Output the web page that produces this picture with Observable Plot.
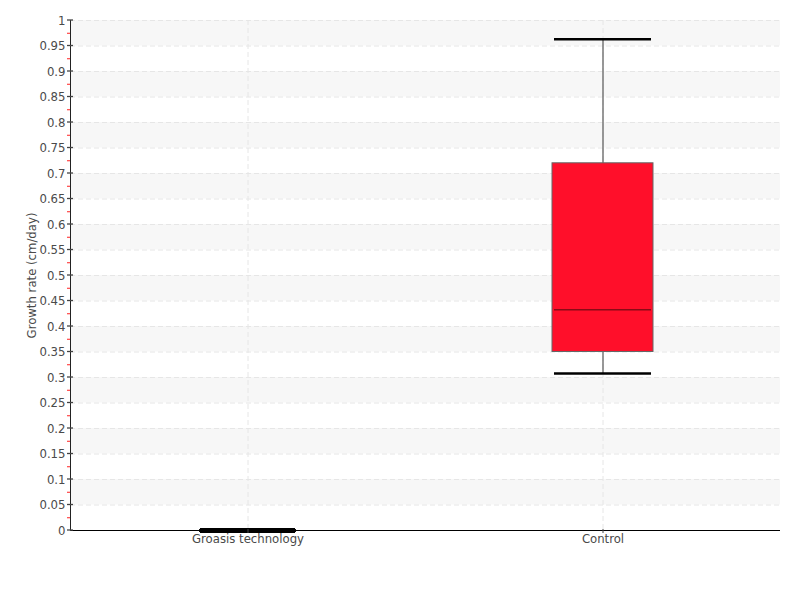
<!DOCTYPE html>
<html><head><meta charset="utf-8">
<script src="https://cdn.jsdelivr.net/npm/d3@7"></script>
<script src="https://cdn.jsdelivr.net/npm/@observablehq/plot@0.6"></script>
<style>body{margin:0;background:#fff;} svg{font-family:"DejaVu Sans Condensed","Liberation Sans Narrow",sans-serif;}</style>
</head><body><div id="chart"></div>
<script>
const categories = ["Groasis technology", "Control"];
const minVals = [0, 0.308];
const q1Vals = [0, 0.35];
const medianVals = [0, 0.433];
const q3Vals = [0, 0.72];
const maxVals = [0, 0.963];
const majorTicks = [0,0.05,0.1,0.15,0.2,0.25,0.3,0.35,0.4,0.45,0.5,0.55,0.6,0.65,0.7,0.75,0.8,0.85,0.9,0.95,1];
const minorTicks = [0.025,0.075,0.125,0.175,0.225,0.275,0.325,0.375,0.425,0.475,0.525,0.575,0.625,0.675,0.725,0.775,0.825,0.875,0.925,0.975];
const bandStarts = [0.05,0.15,0.25,0.35,0.45,0.55,0.65,0.75,0.85,0.95];

const boxes = categories.map((c,i)=>({cat:c,min:minVals[i],q1:q1Vals[i],med:medianVals[i],q3:q3Vals[i],max:maxVals[i]}));
const fmt = d => d === 0 ? "0" : d === 1 ? "1" : String(+d.toFixed(2));

const chart = Plot.plot({
  width: 800, height: 600,
  marginTop: 20, marginBottom: 70, marginLeft: 70, marginRight: 20,
  style: {fontSize: "13px", color: "#4a4a4a", background: "#fff"},
  x: {domain: categories, padding: 0},
  y: {domain: [0,1]},
  marks: [
    Plot.rectY(bandStarts, {y1: d=>d, y2: d=>d+0.05, fill: "#f7f7f7"}),
    Plot.ruleY(majorTicks, {stroke: "#e6e6e6", strokeDasharray: "5,3"}),
    Plot.ruleX(categories, {stroke: "#e6e6e6", strokeDasharray: "5,3"}),
    Plot.ruleX(boxes, {x: "cat", y1: "min", y2: "max", stroke: "#777", strokeWidth: 1.5}),
    Plot.barY(boxes, {x: "cat", y1: "q1", y2: "q3", fill: "#ff0f2a", stroke: "#666", strokeWidth: 1, insetLeft: 127, insetRight: 127}),
    Plot.tickY(boxes, {x: "cat", y: "med", stroke: "#8a0b16", strokeWidth: 1.5, insetLeft: 129, insetRight: 129}),
    Plot.tickY(boxes, {x: "cat", y: "max", stroke: "#000", strokeWidth: 2.5, insetLeft: 129, insetRight: 129}),
    Plot.tickY(boxes, {x: "cat", y: "min", stroke: "#000", strokeWidth: 2.5, insetLeft: 129, insetRight: 129}),
    Plot.tickY(boxes.filter(d=>d.q3===0), {x: "cat", y: "q3", stroke: "#000", strokeWidth: 5, insetLeft: 130, insetRight: 130}),
    Plot.ruleY([0], {stroke: "#000", strokeWidth: 1}),
    Plot.frame({anchor: "left", stroke: "#222"}),
    Plot.axisY({ticks: minorTicks, tickSize: 3, text: null, label: null, stroke: "#ff2020"}),
    Plot.axisY({ticks: majorTicks, tickSize: 6, text: null, label: null, stroke: "#444", strokeWidth: 1.3}),
    Plot.axisY({ticks: majorTicks, tickSize: 0, tickPadding: 5, tickFormat: fmt, fill: "#4a4a4a",
      label: "Growth rate (cm/day)", labelAnchor: "center", labelOffset: 44, labelArrow: "none"}),
    Plot.axisX({tickSize: 4, tickPadding: 0, dy: -1, stroke: "#444", fill: "#4a4a4a", label: null})
  ]
});
// major y ticks cross the axis line: shift them 3px right
const tickGroups = chart.querySelectorAll('g[aria-label="y-axis tick"]');
if (tickGroups.length > 1) tickGroups[1].setAttribute("transform", "translate(3,0)");
document.getElementById("chart").appendChild(chart);
</script></body></html>
